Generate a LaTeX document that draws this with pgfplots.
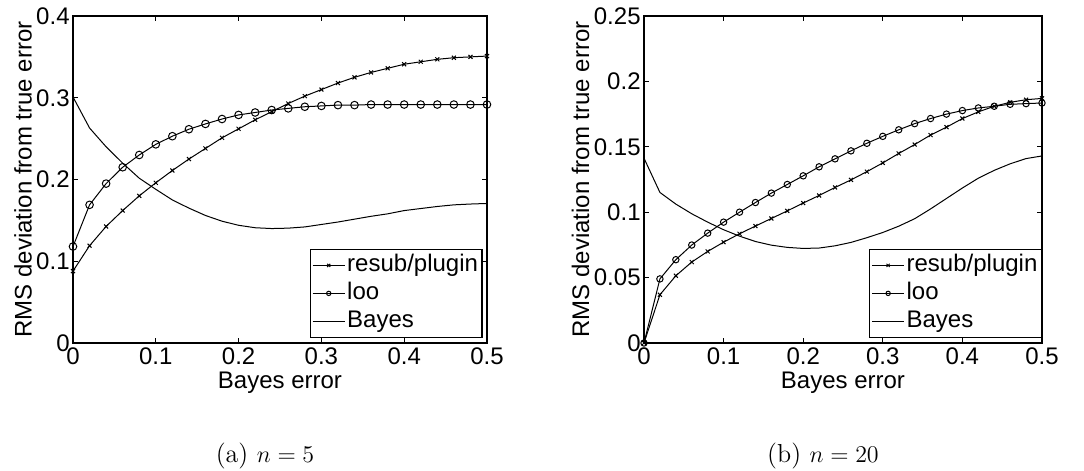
\documentclass[border=0pt]{standalone}
\usepackage{fontspec}
\usepackage{pgfplots}
\pgfplotsset{compat=1.18}
\usepackage{pgfplotstable}
\newfontfamily\arial{Liberation Sans}
\newcommand\axfont{\arial\fontsize{12}{14}\selectfont}

\pgfplotstableread{
x y
0 0.088
0.02 0.119
0.04 0.1426
0.06 0.162
0.08 0.180
0.10 0.196
0.12 0.211
0.14 0.225
0.16 0.238
0.18 0.251
0.20 0.262
0.22 0.273
0.24 0.283
0.26 0.293
0.28 0.302
0.30 0.310
0.32 0.318
0.34 0.325
0.36 0.331
0.38 0.336
0.40 0.341
0.42 0.344
0.44 0.347
0.46 0.349
0.48 0.350
0.50 0.351
}\resubA
\pgfplotstableread{
x y
0 0.118
0.02 0.169
0.04 0.195
0.06 0.215
0.08 0.230
0.10 0.243
0.12 0.253
0.14 0.2615
0.16 0.268
0.18 0.274
0.20 0.279
0.22 0.282
0.24 0.285
0.26 0.287
0.28 0.289
0.30 0.290
0.32 0.291
0.34 0.291
0.36 0.2917
0.38 0.2917
0.40 0.2917
0.42 0.2917
0.44 0.2917
0.46 0.2917
0.48 0.2917
0.50 0.2917
}\looA
\pgfplotstableread{
x y
0 0.301
0.02 0.263
0.04 0.240
0.06 0.220
0.08 0.2016
0.10 0.188
0.12 0.175
0.14 0.165
0.16 0.156
0.18 0.149
0.20 0.144
0.22 0.141
0.24 0.140
0.26 0.1405
0.28 0.142
0.30 0.145
0.32 0.148
0.34 0.1515
0.36 0.155
0.38 0.158
0.40 0.162
0.42 0.1645
0.44 0.167
0.46 0.169
0.48 0.170
0.50 0.1707
}\bayesA
\pgfplotstableread{
x y
0 0
0.02 0.0369
0.04 0.0514
0.06 0.0619
0.08 0.070
0.10 0.0771
0.12 0.0835
0.14 0.0894
0.16 0.0952
0.18 0.101
0.20 0.107
0.22 0.1128
0.24 0.1189
0.26 0.1247
0.28 0.131
0.30 0.1377
0.32 0.1449
0.34 0.1517
0.36 0.159
0.38 0.165
0.40 0.1716
0.42 0.1767
0.44 0.181
0.46 0.184
0.48 0.186
0.50 0.187
}\resubB
\pgfplotstableread{
x y
0 0
0.02 0.049
0.04 0.0637
0.06 0.0749
0.08 0.084
0.10 0.0924
0.12 0.1000
0.14 0.1074
0.16 0.1146
0.18 0.1212
0.20 0.1278
0.22 0.1347
0.24 0.1408
0.26 0.1469
0.28 0.1527
0.30 0.158
0.32 0.163
0.34 0.1677
0.36 0.1716
0.38 0.175
0.40 0.1777
0.42 0.1797
0.44 0.181
0.46 0.1825
0.48 0.183
0.50 0.1835
}\looB
\pgfplotstableread{
x y
0 0.1413
0.02 0.1151
0.04 0.1062
0.06 0.0988
0.08 0.0924
0.10 0.0866
0.12 0.0817
0.14 0.0776
0.16 0.0748
0.18 0.0731
0.20 0.0723
0.22 0.0726
0.24 0.0743
0.26 0.0769
0.28 0.0805
0.30 0.0845
0.32 0.0893
0.34 0.0950
0.36 0.1025
0.38 0.1105
0.40 0.1185
0.42 0.1260
0.44 0.1320
0.46 0.1370
0.48 0.1410
0.50 0.1430
}\bayesB

\pgfplotsset{
  myaxis/.style={
    scale only axis,
    height=163.5pt,
    xmin=0, xmax=0.5, ymin=0,
    xtick={0,0.1,0.2,0.3,0.4,0.5},
    tick align=inside,
    major tick length=2.5pt,
    axis line style={line width=0.7pt},
    every tick/.style={black, line width=0.5pt},
    /pgf/number format/assume math mode=true,
    /pgf/number format/fixed,
    /pgf/number format/precision=2,
    tick label style={font=\axfont},
    label style={font=\axfont},
    xticklabel style={inner sep=2pt},
    yticklabel style={inner sep=1.5pt},
    xlabel={Bayes error},
    xlabel style={yshift=1.5pt},
    ylabel={RMS deviation from true error},
    ylabel style={yshift=-2.8pt},
    legend style={font=\axfont, draw=black, line width=0.6pt,
      inner xsep=1pt, inner ysep=1pt,
      nodes={inner sep=1pt, text height=9pt, text depth=3pt},
      row sep=0pt},
    legend cell align=left,
    legend image code/.code={\draw[mark repeat=2,mark phase=2,#1] plot coordinates {(0pt,0pt)(8pt,0pt)(16pt,0pt)};},
    legend image post style={mark size=1.1pt},
  },
  plotst/.style={black, line width=0.5pt},
}

\begin{document}
\begin{tikzpicture}
\path[use as bounding box] (0,0) rectangle (542pt,-235.5pt);
\begin{axis}[myaxis, width=207pt, at={(36.5pt,-171.5pt)}, anchor=south west,
  ymax=0.4, ytick={0,0.1,0.2,0.3,0.4},
  legend style={at={(rel axis cs:1,0)}, anchor=south east, xshift=-2.2pt, yshift=2.5pt}]
\addplot[plotst, mark=x, mark size=1.4pt] table[x=x,y=y]{\resubA};
\addlegendentry{resub/plugin}
\addplot[plotst, mark=o, mark size=1.9pt] table[x=x,y=y]{\looA};
\addlegendentry{loo}
\addplot[plotst] table[x=x,y=y]{\bayesA};
\addlegendentry{Bayes}
\end{axis}
\begin{axis}[myaxis, width=199pt, at={(322pt,-171.5pt)}, anchor=south west,
  ymax=0.25, ytick={0,0.05,0.1,0.15,0.2,0.25},
  legend style={at={(rel axis cs:1,0)}, anchor=south east, xshift=0pt, yshift=2.5pt}]
\addplot[plotst, mark=x, mark size=1.4pt] table[x=x,y=y]{\resubB};
\addlegendentry{resub/plugin}
\addplot[plotst, mark=o, mark size=1.6pt] table[x=x,y=y]{\looB};
\addlegendentry{loo}
\addplot[plotst] table[x=x,y=y]{\bayesB};
\addlegendentry{Bayes}
\end{axis}
\node[anchor=base, font=\fontsize{13}{15}\selectfont] at (132.5pt,-231pt) {(a) $n=5$};
\node[anchor=base, font=\fontsize{13}{15}\selectfont] at (411.5pt,-231pt) {(b) $n=20$};
\end{tikzpicture}
\end{document}
